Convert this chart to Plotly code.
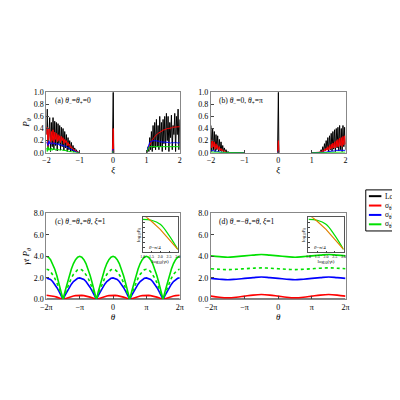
import plotly.graph_objects as go

# ---- panel (a)/(b): P_theta vs xi ----
xi_l = [-2.0, -1.975, -1.95, -1.925, -1.9, -1.875, -1.85, -1.825, -1.8, -1.775, -1.75, -1.725, -1.7, -1.675,
        -1.65, -1.625, -1.6, -1.575, -1.55, -1.525, -1.5, -1.475, -1.45, -1.425, -1.4, -1.375, -1.35, -1.325,
        -1.3, -1.275, -1.25, -1.225, -1.2, -1.175, -1.15, -1.125, -1.1, -1.075, -1.05, -1.025, -1.0]
xi_r = [-v for v in xi_l[::-1]]
xi_c = [-0.02, -0.005, 0.0, 0.005, 0.02]

a_loc_l = [0.3, 0.72, 0.05, 0.4, 0.58, 0.02, 0.5, 0.1, 0.58, 0.05, 0.52, 0.12, 0.5, 0.03, 0.48, 0.15, 0.45,
           0.05, 0.42, 0.1, 0.4, 0.04, 0.35, 0.08, 0.3, 0.02, 0.25, 0.05, 0.2, 0.02, 0.17, 0.03, 0.12, 0.01,
           0.08, 0.02, 0.05, 0.01, 0.02, 0.0, 0.0]
a_s1_l = [0.3, 0.42, 0.1, 0.4, 0.38, 0.15, 0.35, 0.2, 0.38, 0.15, 0.34, 0.22, 0.32, 0.18, 0.3, 0.2, 0.28,
          0.17, 0.27, 0.2, 0.25, 0.15, 0.22, 0.17, 0.2, 0.12, 0.17, 0.12, 0.14, 0.08, 0.1, 0.07, 0.07, 0.04,
          0.05, 0.03, 0.03, 0.01, 0.01, 0.0, 0.0]
a_s5_l = [0.18, 0.15, 0.12, 0.2, 0.15, 0.17, 0.14, 0.16, 0.15, 0.17, 0.14, 0.16, 0.14, 0.15, 0.13, 0.15,
          0.12, 0.14, 0.12, 0.13, 0.11, 0.12, 0.1, 0.11, 0.1, 0.09, 0.08, 0.08, 0.07, 0.06, 0.05, 0.05, 0.04,
          0.03, 0.03, 0.02, 0.01, 0.01, 0.0, 0.0, 0.0]
a_s10_l = [0.08, 0.02, 0.1, 0.04, 0.07, 0.03, 0.08, 0.04, 0.07, 0.05, 0.07, 0.04, 0.06, 0.05, 0.06, 0.04,
           0.05, 0.04, 0.05, 0.04, 0.04, 0.04, 0.04, 0.03, 0.03, 0.03, 0.03, 0.02, 0.02, 0.02, 0.02, 0.01,
           0.01, 0.01, 0.01, 0.0, 0.0, 0.0, 0.0, 0.0, 0.0]
a_loc_r = [0.0, 0.0, 0.1, 0.02, 0.25, 0.05, 0.35, 0.02, 0.45, 0.08, 0.5, 0.05, 0.55, 0.1, 0.45, 0.05, 0.6,
           0.1, 0.5, 0.02, 0.55, 0.15, 0.6, 0.05, 0.65, 0.2, 0.6, 0.02, 0.5, 0.25, 0.62, 0.05, 0.45, 0.3,
           0.65, 0.02, 0.6, 0.3, 0.72, 0.05, 0.55]
a_s1_r = [0.0, 0.02, 0.06, 0.1, 0.13, 0.16, 0.19, 0.21, 0.23, 0.25, 0.27, 0.29, 0.3, 0.31, 0.32, 0.33,
          0.34, 0.35, 0.36, 0.36, 0.37, 0.38, 0.38, 0.39, 0.39, 0.4, 0.4, 0.4, 0.41, 0.41, 0.41, 0.42, 0.42,
          0.42, 0.42, 0.43, 0.43, 0.43, 0.43, 0.43, 0.43]
a_s5_r = [0.0, 0.05, 0.1, 0.14, 0.17, 0.18, 0.19, 0.2, 0.2, 0.2, 0.2, 0.2, 0.19, 0.19, 0.19, 0.19, 0.18,
          0.18, 0.18, 0.18, 0.18, 0.17, 0.17, 0.17, 0.17, 0.17, 0.17, 0.17, 0.17, 0.16, 0.17, 0.16, 0.17,
          0.16, 0.17, 0.16, 0.17, 0.16, 0.17, 0.16, 0.17]
a_s10_r = [0.0, 0.04, 0.07, 0.09, 0.1, 0.1, 0.11, 0.11, 0.11, 0.1, 0.1, 0.1, 0.1, 0.1, 0.1, 0.1, 0.1, 0.1,
           0.1, 0.1, 0.1, 0.1, 0.1, 0.1, 0.1, 0.1, 0.1, 0.1, 0.1, 0.1, 0.1, 0.1, 0.1, 0.1, 0.1, 0.1, 0.1,
           0.1, 0.1, 0.1, 0.1]
a_c = {"Local": [0, 1.0, 1.0, 1.0, 0], "s1": [0, 0.4, 0.4, 0.4, 0],
       "s5": [0, 0.06, 0.06, 0.06, 0], "s10": [0, 0.03, 0.03, 0.03, 0]}

b_loc_l = [0.45, 0.02, 0.4, 0.05, 0.35, 0.02, 0.3, 0.05, 0.28, 0.02, 0.22, 0.03, 0.18, 0.02, 0.12, 0.01,
           0.08, 0.01, 0.05, 0.0, 0.02] + [0.0] * 20
b_s1_l = [0.22, 0.08, 0.2, 0.1, 0.18, 0.06, 0.15, 0.07, 0.12, 0.05, 0.1, 0.04, 0.07, 0.03, 0.05, 0.02,
          0.03, 0.01, 0.01, 0.0, 0.0] + [0.0] * 20
b_s5_l = [0.04, 0.03, 0.04, 0.03, 0.03, 0.02, 0.03, 0.02, 0.02, 0.02, 0.01, 0.01, 0.01, 0.0, 0.0, 0.0,
          0.0, 0.0, 0.0, 0.0, 0.0] + [0.0] * 20
b_s10_l = [0.01] * 12 + [0.0] * 29
b_loc_r = [0.0] * 10 + [0.02, 0.05, 0.01, 0.1, 0.02, 0.15, 0.03, 0.2, 0.05, 0.25, 0.02, 0.28, 0.05, 0.32,
                        0.03, 0.35, 0.06, 0.38, 0.02, 0.4, 0.08, 0.42, 0.03, 0.45, 0.05, 0.4, 0.02, 0.45,
                        0.1, 0.42, 0.05]
b_s1_r = [0.0] * 10 + [0.01, 0.02, 0.01, 0.04, 0.02, 0.06, 0.03, 0.08, 0.04, 0.1, 0.05, 0.12, 0.06, 0.14,
                       0.07, 0.16, 0.08, 0.18, 0.08, 0.2, 0.1, 0.22, 0.1, 0.24, 0.12, 0.25, 0.1, 0.27,
                       0.13, 0.28, 0.14]
b_s5_r = [0.0] * 16 + [0.01, 0.01, 0.01, 0.02, 0.02, 0.02, 0.02, 0.03, 0.03, 0.03, 0.03, 0.03, 0.04,
                       0.04, 0.04, 0.04, 0.04, 0.04, 0.04, 0.04, 0.04, 0.04, 0.04, 0.04, 0.04]
b_s10_r = [0.0] * 22 + [0.01] * 19
b_c = {"Local": [0, 1.0, 1.0, 1.0, 0], "s1": [0, 0.2, 0.2, 0.2, 0],
       "s5": [0, 0.03, 0.03, 0.03, 0], "s10": [0, 0.01, 0.01, 0.01, 0]}

# ---- panel (c)/(d): gamma t P_theta vs theta ----
theta = [-6.283, -5.498, -4.712, -3.927, -3.142, -2.356, -1.571, -0.785, 0.0, 0.785, 1.571, 2.356, 3.142,
         3.927, 4.712, 5.498, 6.283]
theta_f = [-6.283, -6.087, -5.890, -5.694, -5.498, -5.301, -5.105, -4.909, -4.712]
c_s10 = [4.0, 3.92, 3.7, 3.33, 2.83, 2.22, 1.53, 0.78, 0.0]
c_s10d = [2.8, 2.75, 2.59, 2.33, 1.98, 1.56, 1.07, 0.55, 0.0]
c_s5 = [2.0, 1.96, 1.85, 1.66, 1.41, 1.11, 0.77, 0.39, 0.0]
c_s1 = [0.38, 0.37, 0.35, 0.32, 0.27, 0.21, 0.15, 0.07, 0.0]

d_s10 = [4.05, 3.98, 3.92, 3.98, 4.05, 4.12, 4.18, 4.12, 4.05, 3.98, 3.92, 3.98, 4.05, 4.12, 4.18, 4.12, 4.05]
d_s10d = [2.85, 2.8, 2.77, 2.8, 2.85, 2.9, 2.93, 2.9, 2.85, 2.8, 2.77, 2.8, 2.85, 2.9, 2.93, 2.9, 2.85]
d_s5 = [1.95, 1.88, 1.82, 1.88, 1.95, 2.02, 2.08, 2.02, 1.95, 1.88, 1.82, 1.88, 1.95, 2.02, 2.08, 2.02, 1.95]
d_s1 = [0.3, 0.2, 0.15, 0.2, 0.3, 0.4, 0.45, 0.4, 0.3, 0.2, 0.15, 0.2, 0.3, 0.4, 0.45, 0.4, 0.3]

# inset: log10 P vs log10(gamma t)
ins_x = [1.0, 1.5, 2.0, 2.5, 3.0]
ins_g = [-0.2, -0.3, -0.7, -1.8, -3.2]
ins_o = [0.3, -0.4, -1.2, -2.2, -3.2]

cols = {"Local": "black", "s1": "red", "s5": "blue", "s10": "#00e000"}
leg_keys = ["Local", "s1", "s5", "s10"]
leg_text = ["Local", "σ<sub>θ</sub>=1", "σ<sub>θ</sub>=5", "σ<sub>θ</sub>=10"]
F = "Liberation Serif"

fig = go.Figure()

def add(x, y, ax, key, dash="solid", w=1.3):
    fig.add_trace(go.Scatter(x=x, y=y, mode="lines", xaxis="x" + ax, yaxis="y" + ax, showlegend=False,
                             line=dict(color=cols[key], width=w, dash=dash)))

top = {"": (a_loc_l, a_s1_l, a_s5_l, a_s10_l, a_loc_r, a_s1_r, a_s5_r, a_s10_r, a_c),
       "2": (b_loc_l, b_s1_l, b_s5_l, b_s10_l, b_loc_r, b_s1_r, b_s5_r, b_s10_r, b_c)}
for ax, d in top.items():
    for i, key in enumerate(leg_keys):
        xs = xi_l + [None] + xi_c + [None] + xi_r
        ys = d[i] + [None] + d[8][key] + [None] + d[4 + i]
        add(xs, ys, ax, key, w=1.0)

# panel c: quarter period mirrored across the theta grid
qx = [t + 6.283 for t in theta_f]
full_x, idx = [], []
for k in range(4):
    base = -6.283 + k * 3.1416
    for j, o in enumerate(qx):
        full_x.append(base + o); idx.append(j)
    for j in range(len(qx) - 2, -1, -1):
        full_x.append(base + 3.1416 - qx[j]); idx.append(j)
for key, arr, dash in [("Local", [0.0] * 9, "solid"), ("s1", c_s1, "solid"), ("s5", c_s5, "solid"),
                       ("s10", c_s10, "solid"), ("s10", c_s10d, "dot")]:
    add(full_x, [arr[j] for j in idx], "3", key, dash=dash, w=1.6)

for key, arr, dash in [("Local", [0.0] * 17, "solid"), ("s1", d_s1, "solid"), ("s5", d_s5, "solid"),
                       ("s10", d_s10, "solid"), ("s10", d_s10d, "dot")]:
    fig.add_trace(go.Scatter(x=theta, y=arr, mode="lines", xaxis="x4", yaxis="y4", showlegend=False,
                             line=dict(color=cols[key], width=1.6, dash=dash, shape="spline")))

for ax in ["5", "6"]:
    fig.add_trace(go.Scatter(x=ins_x, y=ins_g, mode="lines", xaxis="x" + ax, yaxis="y" + ax, showlegend=False,
                             line=dict(color="#00e000", width=1.2, shape="spline")))
    fig.add_trace(go.Scatter(x=ins_x, y=ins_o, mode="lines", xaxis="x" + ax, yaxis="y" + ax, showlegend=False,
                             line=dict(color="#e08000", width=1.2)))

axs = dict(showline=True, mirror=True, linecolor="#888", linewidth=1, ticks="inside", ticklen=3,
           showgrid=False, zeroline=False, tickfont=dict(size=8, family=F, color="black"))
pi_ticks = dict(tickvals=[-6.283, -3.1416, 0, 3.1416, 6.283], ticktext=["−2π", "−π", "0", "π", "2π"])
tx1, tx2 = [0.083, 0.425], [0.505, 0.85]
ty1, ty2 = [0.64, 0.795], [0.265, 0.485]
lay = dict(
    xaxis=dict(axs, domain=tx1, range=[-2, 2], anchor="y", dtick=1,
               title=dict(text="<i>ξ</i>", font=dict(size=9, family=F), standoff=2)),
    yaxis=dict(axs, domain=ty1, range=[0, 1], anchor="x", dtick=0.2, tickformat=".1f",
               title=dict(text="<i>P<sub>θ</sub></i>", font=dict(size=9, family=F), standoff=2)),
    xaxis2=dict(axs, domain=tx2, range=[-2, 2], anchor="y2", dtick=1,
                title=dict(text="<i>ξ</i>", font=dict(size=9, family=F), standoff=2)),
    yaxis2=dict(axs, domain=ty1, range=[0, 1], anchor="x2", dtick=0.2, tickformat=".1f"),
    xaxis3=dict(axs, domain=tx1, range=[-6.283, 6.283], anchor="y3", **pi_ticks,
                title=dict(text="<i>θ</i>", font=dict(size=9, family=F), standoff=2)),
    yaxis3=dict(axs, domain=ty2, range=[0, 8], anchor="x3", dtick=2, tickformat=".1f",
                title=dict(text="<i>γt P<sub>θ</sub></i>", font=dict(size=9, family=F), standoff=2)),
    xaxis4=dict(axs, domain=tx2, range=[-6.283, 6.283], anchor="y4", **pi_ticks,
                title=dict(text="<i>θ</i>", font=dict(size=9, family=F), standoff=2)),
    yaxis4=dict(axs, domain=ty2, range=[0, 8], anchor="x4", dtick=2, tickformat=".1f"),
)
ins = dict(showline=True, mirror=True, linecolor="#555", linewidth=0.8, ticks="inside", ticklen=2,
           showgrid=False, zeroline=False, tickfont=dict(size=4, family=F, color="black"))
for n, dx in [("5", [0.33, 0.42]), ("6", [0.755, 0.845])]:
    lay["xaxis" + n] = dict(ins, domain=dx, range=[1, 3], anchor="y" + n, dtick=0.5, tickformat=".1f",
                            title=dict(text="log<sub>10</sub>(γt)", font=dict(size=5, family=F), standoff=1))
    lay["yaxis" + n] = dict(ins, domain=[0.385, 0.475], range=[-3.5, 0], anchor="x" + n, dtick=0.5,
                            showticklabels=False,
                            title=dict(text="log<sub>10</sub>P<sub>θ</sub>", font=dict(size=5, family=F), standoff=1))
fig.update_layout(**lay)

for txt, x, y, s in [("(a) <i>θ</i><sub>−</sub>=<i>θ</i><sub>+</sub>=0", 0.1, 0.79, 7.5),
                     ("(b) <i>θ</i><sub>−</sub>=0, <i>θ</i><sub>+</sub>=π", 0.52, 0.79, 7.5),
                     ("(c) <i>θ</i><sub>−</sub>=<i>θ</i><sub>+</sub>=<i>θ</i>, <i>ξ</i>=1", 0.1, 0.48, 7.5),
                     ("(d) <i>θ</i><sub>−</sub>=−<i>θ</i><sub>+</sub>=<i>θ</i>, <i>ξ</i>=1", 0.52, 0.48, 7.5),
                     ("<i>θ</i>=π/4", 0.34, 0.41, 5), ("<i>θ</i>=π/4", 0.765, 0.41, 5)]:
    fig.add_annotation(x=x, y=y, xref="paper", yref="paper", text=txt, showarrow=False,
                       xanchor="left", yanchor="top", font=dict(size=s, family=F, color="black"))

# legend box drawn by hand so rows stay compact
lx0, ly0 = 0.902, 0.545
fig.add_shape(type="rect", xref="paper", yref="paper", x0=lx0, x1=1.02, y0=ly0 - 0.105, y1=ly0,
              line=dict(color="black", width=1), fillcolor="white")
for i, (key, txt) in enumerate(zip(leg_keys, leg_text)):
    yy = ly0 - 0.016 - i * 0.024
    fig.add_shape(type="line", xref="paper", yref="paper", x0=lx0 + 0.008, x1=lx0 + 0.04, y0=yy, y1=yy,
                  line=dict(color=cols[key], width=2))
    fig.add_annotation(x=lx0 + 0.045, y=yy, xref="paper", yref="paper", text=txt, showarrow=False,
                       xanchor="left", yanchor="middle", font=dict(size=7.5, family=F, color="black"))

fig.update_layout(
    width=400, height=400, margin=dict(l=0, r=0, t=0, b=0),
    plot_bgcolor="white", paper_bgcolor="white",
    font=dict(family=F, color="black"), showlegend=False,
)
fig.write_html("out.html")
